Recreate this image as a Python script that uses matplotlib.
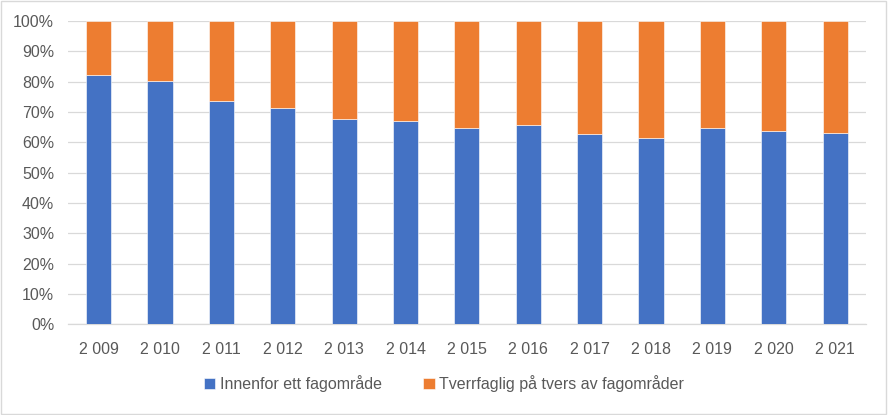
import matplotlib; matplotlib.use('Agg')
import matplotlib.pyplot as plt
from matplotlib.patches import Rectangle
from matplotlib.ticker import PercentFormatter
import numpy as np

plt.rcParams['font.family'] = ['Liberation Sans', 'DejaVu Sans']
BLUE = '#4472C4'; ORANGE = '#ED7D31'; TXT = '#595959'; GRID = '#D9D9D9'

years = ['2 009', '2 010', '2 011', '2 012', '2 013', '2 014', '2 015',
         '2 016', '2 017', '2 018', '2 019', '2 020', '2 021']
innenfor = [82.2, 80.3, 73.8, 71.4, 67.8, 67.2, 64.7, 65.7, 62.9, 61.4, 64.7, 63.8, 63.1]
tverrfaglig = [100 - v for v in innenfor]

fig = plt.figure(figsize=(8.88, 4.15), dpi=100)
ax = fig.add_axes([0.0766, 0.219, 0.8984, 0.730])
x = np.arange(len(years))
ax.bar(x, innenfor, width=0.41, color=BLUE, edgecolor='white', lw=0.4,
       label='Innenfor ett fagområde', zorder=3)
ax.bar(x, tverrfaglig, width=0.41, bottom=innenfor, color=ORANGE, edgecolor='white', lw=0.4,
       label='Tverrfaglig på tvers av fagområder', zorder=3)

ax.set_xlim(-0.5, len(years) - 0.5)
ax.set_ylim(0, 100)
ax.set_yticks(np.arange(0, 101, 10))
ax.yaxis.set_major_formatter(PercentFormatter(decimals=0))
ax.set_xticks(x)
ax.set_xticklabels(years)
ax.grid(axis='y', color=GRID, lw=0.9, zorder=0)
for s in ['top', 'right', 'left']:
    ax.spines[s].set_visible(False)
ax.spines['bottom'].set_color(GRID)
ax.spines['bottom'].set_linewidth(0.9)
ax.tick_params(length=0, colors=TXT, labelsize=11.5)
ax.tick_params(axis='x', pad=13)
ax.tick_params(axis='y', pad=10)

fig.legend(loc='center', bbox_to_anchor=(0.5, 1 - 384 / 415), ncol=2, frameon=False,
           handlelength=0.7, handleheight=0.7, handletextpad=0.3, columnspacing=2.6,
           fontsize=11.5, labelcolor=TXT)

fig.add_artist(Rectangle((0.001, 0.002), 0.997, 0.995, transform=fig.transFigure,
                         fill=False, edgecolor=GRID, lw=1))
plt.savefig('out.png', dpi=100, facecolor='white')
